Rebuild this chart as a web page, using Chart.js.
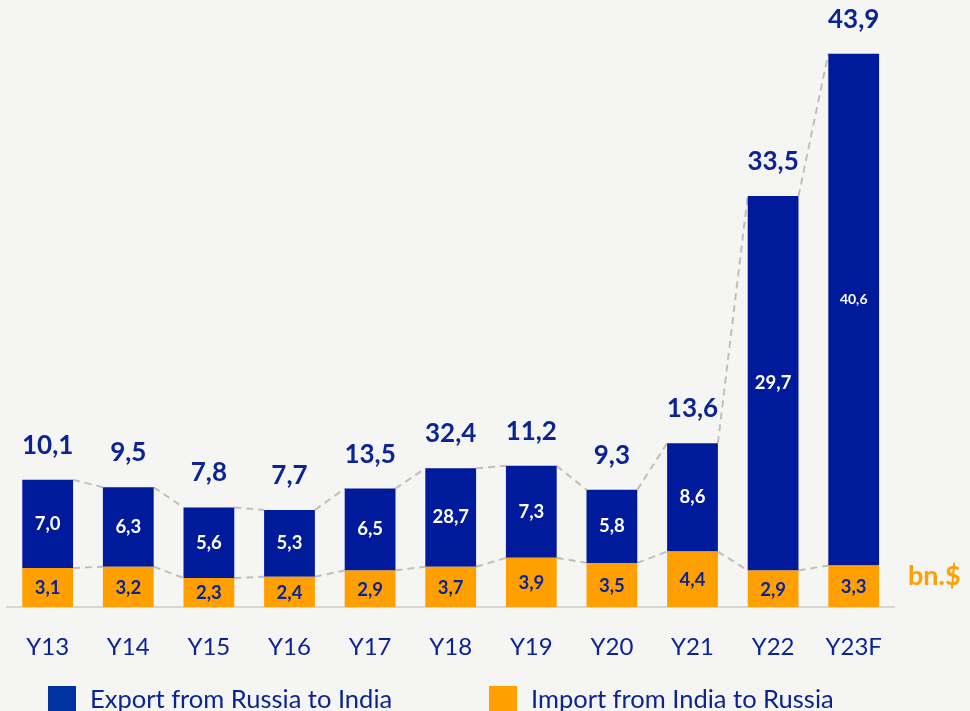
<!DOCTYPE html>
<html>
<head>
<meta charset="utf-8">
<script src="https://cdn.jsdelivr.net/npm/chart.js@4.4.1/dist/chart.umd.min.js"></script>
<style>
  html, body { margin: 0; padding: 0; background: #f5f5f4; }
  #wrap { position: relative; width: 970px; height: 711px; }
  .legend { position: absolute; top: 683px; display: flex; align-items: center;
    font-family: Lato, sans-serif; font-size: 25.5px; color: #0b2495; }
  .legend span.box { display: inline-block; width: 28px; height: 25px; margin-right: 14px; }
</style>
</head>
<body>
<div id="wrap">
  <canvas id="tradeChart" width="970" height="711"></canvas>
  <div class="legend" style="left:48px"><span class="box" style="background:#0033a0"></span>Export from Russia to India</div>
  <div class="legend" style="left:489px"><span class="box" style="background:#ffa000"></span>Import from India to Russia</div>
</div>
<script>
// categories
const years = ["Y13", "Y14", "Y15", "Y16", "Y17", "Y18", "Y19", "Y20", "Y21", "Y22", "Y23F"];

// bar heights as drawn in the picture (Y18 export bar is drawn much shorter than its label)
const importValues = [3.1, 3.2, 2.3, 2.4, 2.9, 3.2, 3.9, 3.5, 4.4, 2.9, 3.3];
const exportValues = [7.0, 6.3, 5.6, 5.3, 6.5, 7.8, 7.3, 5.8, 8.6, 29.7, 40.6];

// printed labels
const importLabels = ["3,1", "3,2", "2,3", "2,4", "2,9", "3,7", "3,9", "3,5", "4,4", "2,9", "3,3"];
const exportLabels = ["7,0", "6,3", "5,6", "5,3", "6,5", "28,7", "7,3", "5,8", "8,6", "29,7", "40,6"];
const totalLabels = ["10,1", "9,5", "7,8", "7,7", "13,5", "32,4", "11,2", "9,3", "13,6", "33,5", "43,9"];

const NAVY = "#001a9c";
const ORANGE = "#ffa000";
const TEXT_NAVY = "#0b2495";

// dashed connectors, value labels and the unit text
const decorPlugin = {
  id: "decor",
  beforeDatasetsDraw(chart) {
    const ctx = chart.ctx;
    ctx.save();
    ctx.strokeStyle = "#bfbfbf";
    ctx.lineWidth = 2;
    ctx.setLineDash([7, 5]);
    [0, 1].forEach((d) => {
      const bars = chart.getDatasetMeta(d).data;
      for (let i = 0; i < bars.length - 1; i++) {
        const a = bars[i], b = bars[i + 1];
        ctx.beginPath();
        ctx.moveTo(a.x + a.width / 2, a.y);
        ctx.lineTo(b.x - b.width / 2, b.y);
        ctx.stroke();
      }
    });
    ctx.restore();
  },
  afterDatasetsDraw(chart) {
    const ctx = chart.ctx;
    const imp = chart.getDatasetMeta(0).data;
    const exp = chart.getDatasetMeta(1).data;
    ctx.save();
    ctx.textAlign = "center";
    ctx.textBaseline = "middle";
    imp.forEach((el, i) => {
      ctx.font = "bold 18.5px Lato";
      ctx.fillStyle = TEXT_NAVY;
      ctx.fillText(importLabels[i], el.x, (el.y + el.base) / 2 + 1);
    });
    exp.forEach((el, i) => {
      const last = i === exp.length - 1;
      ctx.font = last ? "bold 14px Lato" : "bold 18.5px Lato";
      ctx.fillStyle = "#ffffff";
      const y = (el.y + el.base) / 2 + (last ? -10 : 0);
      ctx.fillText(exportLabels[i], el.x, y);
    });
    ctx.textBaseline = "alphabetic";
    ctx.font = "bold 26px Lato";
    ctx.fillStyle = TEXT_NAVY;
    exp.forEach((el, i) => {
      ctx.fillText(totalLabels[i], el.x, el.y - 26);
    });
    ctx.textAlign = "left";
    ctx.font = "bold 27px Lato";
    ctx.fillStyle = ORANGE;
    ctx.fillText("bn.$", 908, 585);
    ctx.restore();
  },
};

const ctx = document.getElementById("tradeChart").getContext("2d");
window.tradeChart = new Chart(ctx, {
  type: "bar",
  data: {
    labels: years,
    datasets: [
      {
        label: "Import from India to Russia",
        data: importValues,
        backgroundColor: ORANGE,
      },
      {
        label: "Export from Russia to India",
        data: exportValues,
        backgroundColor: NAVY,
      },
    ],
  },
  options: {
    responsive: false,
    animation: false,
    layout: { padding: { left: 6, right: 76, top: 2, bottom: 0 } },
    datasets: {
      bar: { categoryPercentage: 1, barPercentage: 0.63 },
    },
    scales: {
      x: {
        stacked: true,
        grid: { display: false, drawTicks: false },
        border: { display: true, color: "#d6d6d6", width: 2 },
        ticks: {
          color: TEXT_NAVY,
          padding: 26,
          font: { family: "Lato", size: 24 },
        },
        afterFit(scale) {
          scale.height = 104;
        },
      },
      y: {
        stacked: true,
        display: false,
        min: 0,
        max: 48,
      },
    },
    plugins: {
      legend: { display: false },
      tooltip: { enabled: false },
    },
  },
  plugins: [decorPlugin],
});
</script>
</body>
</html>
